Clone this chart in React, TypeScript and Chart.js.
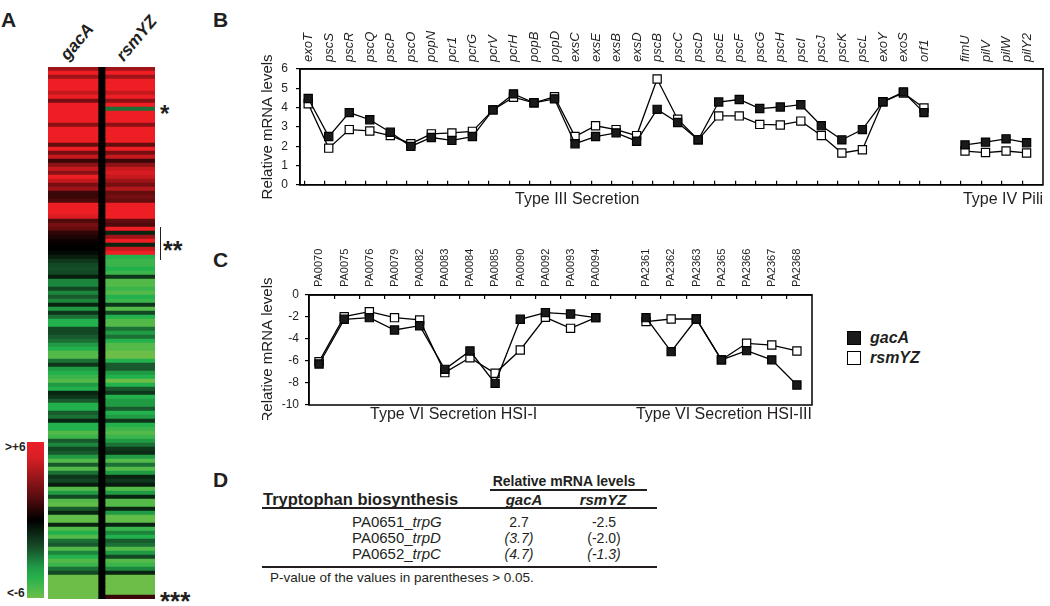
import React, { useEffect, useRef } from 'react';
import { Chart, registerables } from 'chart.js';

Chart.register(...registerables);

const FONT = "'Liberation Sans', Arial, Helvetica, sans-serif";
const INK = '#231f20';
Chart.defaults.font.family = FONT;
Chart.defaults.color = INK;

// ---------- Panel A: heatmap values (log2 fold, clipped to ±6) ----------
const heatGacA = [
  4, 6, 4, 6, 6, 6, 5, 6, 3, 6,
  6, 6, 6, 6, 3.5, 6, 6, 6, 6, 2.5,
  6, 3, 5, 1.5, 3.5, 5, 3.5, 6, 5, 3,
  4, 1.5, 1.5, 2, 6, 6, 6, 5.5, 2, 3,
  2.5, 1.2, 0.8, 0.3, 0.1, 0, -0.3, -0.8, -1.5, -2,
  -2.2, -2, -0.8, -3.5, -3.5, -2, -3.5, -2.5, -3.5, -1,
  -4, -1.5, -3, -4.5, -4.5, -2, -2, -2.5, -3, -4,
  -4.5, -5.5, -5.5, -3, -1.5, -4, -4.5, -5, -5.5, -4,
  -4.5, -1, -1.5, -2.5, -4.5, -4.5, -2.5, -3, -1, -4.5,
  -4.5, -5.5, -5, -2.5, -3.5, -2, -2.5, -4, -5.5, -2.5,
  -5.5, -3, -1.5, -2, -0.8, -5.5, -4, -2, -5.5, -5.8,
  -2.5, -1, -5.8, -5.8, -1, -5.5, -4.5, -5.5, -3, -2.5,
  -5.5, -3.5, -4.5, -5.5, -5, -3, -2, -6, -6, -6,
  -6, -6, -6,
];
const heatRsmYZ = [
  4, 6, 4, 6, 6, 6, 5, 6, 3.5, 6,
  -3, 6, 6, 6, 3.5, 6, 6, 6, 6, 2.5,
  6, 3, 5, 1.5, 3.5, 5, 5.5, 5, 4, 3,
  4.5, 2.5, 3, 2.5, 6, 6, 6, 6, 2.5, 2,
  6, -1, 4, 6, -1, 5, 6, -4.5, -5, -5,
  -4.5, -5, -1.5, -5.5, -5.5, -5, -5.5, -4.5, -5, -1.5,
  -5.5, -2, -4.5, -5.5, -5.5, -3, -4, -3, -4.5, -5.5,
  -5.5, -6, -6, -4.5, -2.5, -2.5, -4, -4.5, -6, -4.5,
  -2.5, -1.5, -4.5, -4, -4, -2.5, -4.5, -4, -1.5, -4.5,
  -5, -5.5, -5, -4, -3, -1.5, -1.2, -4, -5.5, -3,
  -5.5, -4, -1, -1.5, -0.8, -5.5, -4, -1, -5.5, -5.5,
  -1, -4, -5.8, -5.8, -1, -5, -3.5, -4.5, -2.5, -3,
  -5.5, -4, -2, -5.5, -5, -3.5, -1, -6, -6, -6,
  -6, -6, 1.5,
];
const heatColumns = ['gacA', 'rsmYZ'];

// ---------- Panel B: Type III secretion / Type IV pili ----------
const genesB = [
  'exoT', 'pscS', 'pscR', 'pscQ', 'pscP', 'pscO', 'popN', 'pcr1', 'pcrG', 'pcrV',
  'pcrH', 'popB', 'popD', 'exsC', 'exsE', 'exsB', 'exsD', 'pscB', 'pscC', 'pscD',
  'pscE', 'pscF', 'pscG', 'pscH', 'pscI', 'pscJ', 'pscK', 'pscL', 'exoY', 'exoS',
  'orf1', '', 'fimU', 'pilV', 'pilW', 'pilY2',
];
const gacAB = [
  4.47, 2.5, 3.74, 3.37, 2.72, 1.99, 2.45, 2.3, 2.5, 3.88,
  4.71, 4.25, 4.45, 2.13, 2.5, 2.69, 2.26, 3.91, 3.23, 2.33,
  4.29, 4.42, 3.95, 4.03, 4.15, 3.06, 2.33, 2.86, 4.3, 4.81,
  3.74, null, 2.07, 2.21, 2.38, 2.18,
];
const rsmYZB = [
  4.2, 1.9, 2.86, 2.79, 2.55, 2.13, 2.64, 2.69, 2.77, 3.88,
  4.54, 4.25, 4.56, 2.5, 3.06, 2.86, 2.55, 5.48, 3.4, 2.33,
  3.57, 3.57, 3.13, 3.1, 3.3, 2.55, 1.65, 1.82, 4.3, 4.76,
  3.98, null, 1.75, 1.67, 1.75, 1.65,
];
const groupsB = ['Type III Secretion', 'Type IV Pili'];

// ---------- Panel C: Type VI secretion ----------
const genesC = [
  'PA0070', 'PA0075', 'PA0076', 'PA0079', 'PA0082', 'PA0083', 'PA0084', 'PA0085',
  'PA0090', 'PA0092', 'PA0093', 'PA0094', '', 'PA2361', 'PA2362', 'PA2363',
  'PA2365', 'PA2366', 'PA2367', 'PA2368',
];
const gacAC = [
  -6.27, -2.21, -2.06, -3.18, -2.79, -6.76, -5.09, -8.03, -2.21, -1.6,
  -1.73, -2.06, null, -2.06, -5.15, -2.18, -5.9, -5.06, -5.9, -8.18,
];
const rsmYZC = [
  -6.06, -1.97, -1.52, -2.06, -2.27, -7.06, -5.7, -7.12, -5.0, -2.03,
  -3.03, -2.06, null, -2.42, -2.18, -2.18, -5.9, -4.39, -4.55, -5.09,
];
const groupsC = ['Type VI Secretion HSI-I', 'Type VI Secretion HSI-III'];

// ---------- Panel D: table ----------
const trpIds = ['PA0651_', 'PA0650_', 'PA0652_'];
const trpNames = ['trpG', 'trpD', 'trpC'];
const trpGacA = ['2.7', '(3.7)', '(4.7)'];
const trpRsmYZ = ['-2.5', '(-2.0)', '(-1.3)'];
const trpGacAItalic = [false, true, true];
const trpRsmYZItalic = [false, false, true];

// ---------- helpers ----------
const POS_STOPS: [number, number[]][] = [[0, [0, 0, 0]], [6, [237, 30, 36]]];
const NEG_STOPS: [number, number[]][] = [[0, [0, 0, 0]], [2.5, [24, 90, 45]], [4.5, [34, 177, 76]], [6, [108, 190, 72]]];
function heatColor(v: number): string {
  const stops = v >= 0 ? POS_STOPS : NEG_STOPS;
  const a = Math.min(6, Math.abs(v));
  for (let i = 1; i < stops.length; i++) {
    const [x1, c1] = stops[i];
    const [x0, c0] = stops[i - 1];
    if (a <= x1) {
      const t = (a - x0) / (x1 - x0);
      const c = c0.map((c0v, k) => Math.round(c0v + (c1[k] - c0v) * t));
      return `rgb(${c[0]},${c[1]},${c[2]})`;
    }
  }
  const c = stops[stops.length - 1][1];
  return `rgb(${c[0]},${c[1]},${c[2]})`;
}

const framePlugin = {
  id: 'frame',
  beforeDatasetsDraw(chart: any) {
    const { ctx, chartArea } = chart;
    ctx.save();
    ctx.strokeStyle = '#000';
    ctx.lineWidth = 1.5;
    ctx.strokeRect(chartArea.left, chartArea.top, chartArea.right - chartArea.left, chartArea.bottom - chartArea.top);
    ctx.restore();
  },
};

function lineDatasets(gac: (number | null)[], rsm: (number | null)[]) {
  const pts = (arr: (number | null)[]) => arr.map((v, i) => ({ x: i, y: v }));
  const common = {
    borderColor: '#000',
    borderWidth: 1.3,
    pointStyle: 'rect',
    pointRadius: 5.8,
    pointBorderColor: '#000',
    pointBorderWidth: 1.2,
    spanGaps: false,
    tension: 0,
    xAxisID: 'x',
  };
  return [
    { ...common, label: 'gacA', data: pts(gac), pointBackgroundColor: '#1a1a1a' },
    { ...common, label: 'rsmYZ', data: pts(rsm), pointBackgroundColor: '#ffffff' },
  ];
}

function configHeat(): any {
  return {
    type: 'bar',
    data: {
      labels: heatGacA.map((_, i) => String(i)),
      datasets: [
        { label: heatColumns[0], data: heatGacA.map(() => [0, 50]), backgroundColor: heatGacA.map(heatColor), borderWidth: 0, barPercentage: 1, categoryPercentage: 1, grouped: false },
        { label: 'divider', data: heatGacA.map(() => [50, 57]), backgroundColor: '#000', borderWidth: 0, barPercentage: 1, categoryPercentage: 1, grouped: false },
        { label: heatColumns[1], data: heatRsmYZ.map(() => [57, 107]), backgroundColor: heatRsmYZ.map(heatColor), borderWidth: 0, barPercentage: 1, categoryPercentage: 1, grouped: false },
      ],
    },
    options: {
      indexAxis: 'y',
      animation: false,
      responsive: false,
      events: [],
      layout: { padding: 0 },
      plugins: { legend: { display: false }, tooltip: { enabled: false } },
      scales: {
        x: { type: 'linear', display: false, min: 0, max: 107 },
        y: { type: 'category', display: false },
      },
    },
  };
}

function configB(): any {
  return {
    type: 'line',
    data: { datasets: lineDatasets(gacAB, rsmYZB) },
    options: {
      animation: false,
      responsive: false,
      events: [],
      layout: { padding: { left: 0, right: 5, top: 0, bottom: 0 } },
      plugins: { legend: { display: false }, tooltip: { enabled: false } },
      scales: {
        x: {
          type: 'linear', position: 'bottom', min: -0.4, max: 35.8,
          afterBuildTicks: (s: any) => { s.ticks = genesB.map((_, i) => ({ value: i - 0.2 })); },
          afterFit: (s: any) => { s.height = 13; },
          ticks: { display: false },
          grid: { drawOnChartArea: false, drawTicks: true, tickLength: -4, color: '#000', lineWidth: 1.2 },
          border: { display: true, color: '#000', width: 1.5 },
        },
        xTop: {
          type: 'linear', position: 'top', min: -0.4, max: 35.8,
          afterBuildTicks: (s: any) => {
            s.ticks = genesB.map((g, i) => ({ value: i, g })).filter((t) => t.g).map((t) => ({ value: t.value }));
          },
          afterFit: (s: any) => { s.height = 69; },
          ticks: {
            autoSkip: false, maxRotation: 90, minRotation: 90, padding: 7, color: INK, labelOffset: 16,
            font: { family: FONT, size: 13, style: 'italic' },
            callback: (v: number) => genesB[v] ?? '',
          },
          grid: { display: false, drawTicks: false },
          border: { display: true, color: '#000', width: 1.5 },
        },
        y: {
          min: 0, max: 6,
          afterFit: (s: any) => { s.width = 60; },
          ticks: { stepSize: 1, padding: 8, color: INK, font: { family: FONT, size: 12 } },
          grid: { drawOnChartArea: false, drawTicks: true, tickLength: 4, color: '#000', lineWidth: 1.2 },
          border: { display: true, color: '#000', width: 1.5 },
          title: { display: true, text: 'Relative mRNA levels', color: INK, font: { family: FONT, size: 15 }, padding: { top: 19, bottom: 0 } },
        },
      },
    },
    plugins: [framePlugin],
  };
}

function configC(): any {
  return {
    type: 'line',
    data: { datasets: lineDatasets(gacAC, rsmYZC) },
    options: {
      animation: false,
      responsive: false,
      events: [],
      layout: { padding: { left: 0, right: 8, top: 0, bottom: 15 } },
      plugins: { legend: { display: false }, tooltip: { enabled: false } },
      scales: {
        x: { type: 'linear', display: false, min: -0.4, max: 19.6 },
        xTop: {
          type: 'linear', position: 'top', min: -0.4, max: 19.6,
          afterBuildTicks: (s: any) => {
            const labelTicks = genesC.map((g, i) => ({ value: i, g })).filter((t) => t.g).map((t) => ({ value: t.value }));
            const markTicks = genesC.slice(0, genesC.length - 1).map((_, i) => ({ value: i + 0.6 }));
            s.ticks = [...labelTicks, ...markTicks].sort((a, b) => a.value - b.value);
          },
          afterFit: (s: any) => { s.height = 65; },
          ticks: {
            autoSkip: false, maxRotation: 90, minRotation: 90, padding: 12, color: INK, labelOffset: 13.5,
            font: { family: FONT, size: 11 },
            callback: (v: number) => (Number.isInteger(v) ? genesC[v] ?? '' : ''),
          },
          grid: {
            drawOnChartArea: false, drawTicks: true, tickLength: -4, color: '#000', lineWidth: 1.2,
            tickColor: (ctx: any) => (ctx.tick && ctx.tick.label ? 'rgba(0,0,0,0)' : '#000'),
          },
          border: { display: true, color: '#000', width: 1.5 },
        },
        y: {
          min: -10, max: 0,
          afterFit: (s: any) => { s.width = 69; },
          ticks: { stepSize: 2, padding: 6, color: INK, font: { family: FONT, size: 12 } },
          grid: { drawOnChartArea: false, drawTicks: true, tickLength: 4, color: '#000', lineWidth: 1.2 },
          border: { display: true, color: '#000', width: 1.5 },
          title: { display: true, text: 'Relative mRNA levels', color: INK, font: { family: FONT, size: 15 }, padding: { top: 19, bottom: 0 } },
        },
      },
    },
    plugins: [framePlugin],
  };
}

function ChartBox({ left, top, width, height, make }: { left: number; top: number; width: number; height: number; make: () => any }) {
  const ref = useRef<HTMLCanvasElement | null>(null);
  useEffect(() => {
    if (!ref.current) return;
    const chart = new Chart(ref.current, make());
    return () => chart.destroy();
  }, []);
  return (
    <canvas
      ref={ref}
      width={width}
      height={height}
      style={{ position: 'absolute', left, top, width, height, display: 'block' }}
    />
  );
}

type TxtProps = {
  x: number; y: number; size: number; bold?: boolean; italic?: boolean;
  align?: 'left' | 'center' | 'right'; rotate?: number; children: React.ReactNode;
};
function Txt({ x, y, size, bold, italic, align = 'left', rotate, children }: TxtProps) {
  const asc = 0.8465 * size;
  const shift = align === 'center' ? '-50%' : align === 'right' ? '-100%' : '0';
  const style: React.CSSProperties = {
    position: 'absolute',
    left: x,
    top: y - asc,
    fontSize: size,
    lineHeight: `${size}px`,
    fontWeight: bold ? 700 : 400,
    fontStyle: italic ? 'italic' : 'normal',
    whiteSpace: 'nowrap',
    color: INK,
    transform: rotate ? `rotate(${rotate}deg)` : `translateX(${shift})`,
    transformOrigin: `0px ${asc}px`,
  };
  return <div style={style}>{children}</div>;
}

function HLine({ x1, x2, y, w }: { x1: number; x2: number; y: number; w: number }) {
  return <div style={{ position: 'absolute', left: x1, top: y - w / 2, width: x2 - x1, height: w, background: INK }} />;
}

export default function App() {
  const rowBaselines = [527, 543, 559];
  return (
    <div style={{ position: 'absolute', left: 0, top: 0, width: 1050, height: 606, background: '#fff', fontFamily: FONT, overflow: 'hidden' }}>
      {/* Panel letters */}
      <Txt x={1} y={27} size={21} bold>A</Txt>
      <Txt x={213} y={27} size={21} bold>B</Txt>
      <Txt x={213} y={267} size={21} bold>C</Txt>
      <Txt x={213} y={487} size={21} bold>D</Txt>

      {/* Panel A heatmap */}
      <Txt x={68} y={61} size={17} bold italic rotate={-50}>{heatColumns[0]}</Txt>
      <Txt x={124} y={62} size={17} bold italic rotate={-50}>{heatColumns[1]}</Txt>
      <ChartBox left={48} top={67} width={107} height={532} make={configHeat} />
      <Txt x={160} y={122} size={24} bold>*</Txt>
      <div style={{ position: 'absolute', left: 159.5, top: 227, width: 1.5, height: 33, background: INK }} />
      <Txt x={163} y={259} size={25} bold>**</Txt>
      <Txt x={160} y={610} size={26} bold>***</Txt>
      <div
        style={{
          position: 'absolute', left: 27, top: 442, width: 17, height: 156,
          background: 'linear-gradient(to bottom, #ec1e26 0%, #d81f26 10%, #5a0d10 35%, #000 50%, #17502a 68%, #1f9a47 80%, #27b14c 87%, #6cbf48 100%)',
        }}
      />
      <Txt x={5} y={451} size={12} bold>{'>+6'}</Txt>
      <Txt x={7} y={597} size={12} bold>{'<-6'}</Txt>

      {/* Panel B */}
      <ChartBox left={240} top={0} width={810} height={200} make={configB} />
      <Txt x={515} y={205} size={16}>{groupsB[0]}</Txt>
      <Txt x={1043} y={205} size={16} align="right">{groupsB[1]}</Txt>

      {/* Panel C */}
      <ChartBox left={240} top={230} width={580} height={190} make={configC} />
      <Txt x={370} y={420} size={16}>{groupsC[0]}</Txt>
      <Txt x={812} y={420} size={16} align="right">{groupsC[1]}</Txt>

      {/* Legend */}
      <div style={{ position: 'absolute', left: 847, top: 331, width: 12, height: 12, background: '#1a1a1a', border: '1.5px solid #000' }} />
      <Txt x={870} y={344} size={16} bold italic>gacA</Txt>
      <div style={{ position: 'absolute', left: 847, top: 351, width: 12, height: 12, background: '#fff', border: '1.5px solid #000' }} />
      <Txt x={870} y={364} size={16} bold italic>rsmYZ</Txt>

      {/* Panel D table */}
      <Txt x={564} y={486} size={14} bold align="center">Relative mRNA levels</Txt>
      <HLine x1={490} x2={647} y={490} w={1.5} />
      <Txt x={263} y={505} size={16.5} bold>Tryptophan biosynthesis</Txt>
      <Txt x={524} y={505} size={15} bold italic align="center">gacA</Txt>
      <Txt x={603} y={505} size={15} bold italic align="center">rsmYZ</Txt>
      <HLine x1={262} x2={657} y={508} w={2} />
      {trpIds.map((id, i) => (
        <React.Fragment key={id}>
          <Txt x={352} y={rowBaselines[i]} size={15}>
            {id}
            <span style={{ fontStyle: 'italic' }}>{trpNames[i]}</span>
          </Txt>
          <Txt x={519} y={rowBaselines[i]} size={14} italic={trpGacAItalic[i]} align="center">{trpGacA[i]}</Txt>
          <Txt x={604} y={rowBaselines[i]} size={14} italic={trpRsmYZItalic[i]} align="center">{trpRsmYZ[i]}</Txt>
        </React.Fragment>
      ))}
      <HLine x1={262} x2={657} y={567} w={2} />
      <Txt x={270} y={582} size={13.5}>P-value of the values in parentheses &gt; 0.05.</Txt>
    </div>
  );
}
